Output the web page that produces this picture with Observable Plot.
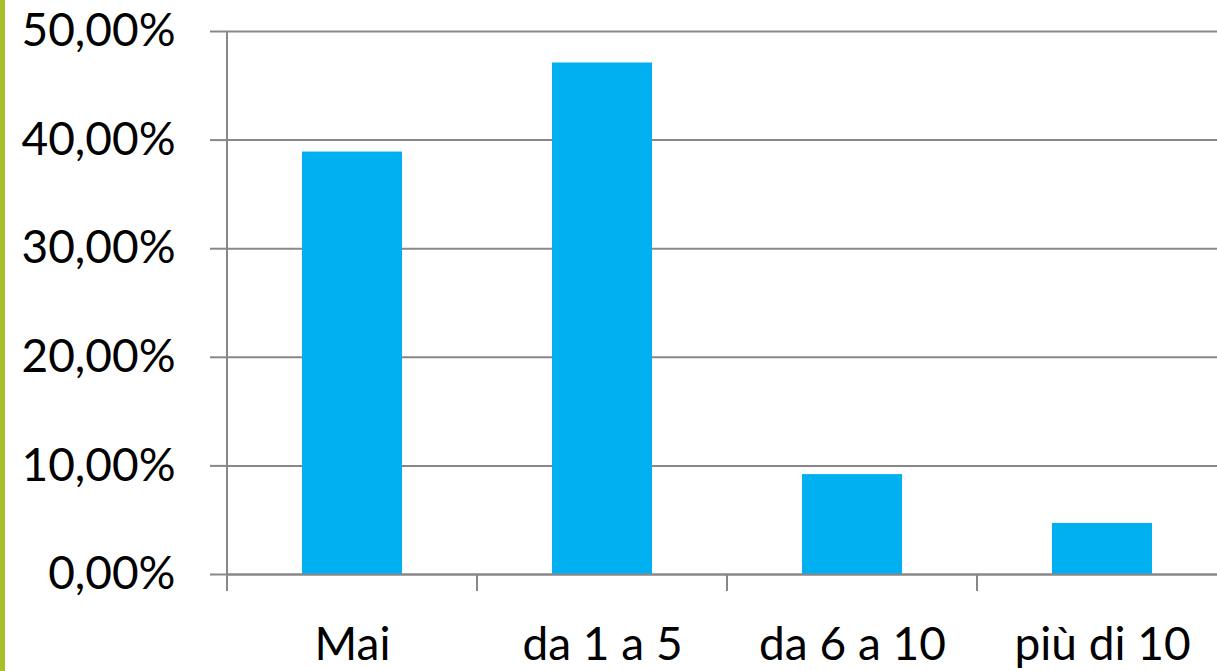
<!DOCTYPE html>
<html><head><meta charset="utf-8">
<script src="https://cdn.jsdelivr.net/npm/d3@7"></script>
<script src="https://cdn.jsdelivr.net/npm/@observablehq/plot@0.6"></script>
<style>
html,body{margin:0;padding:0;background:#fff;overflow:hidden;width:1217px;height:671px}
#strip{position:absolute;left:0;top:0;width:5px;height:671px;background:#a6bf2b;z-index:2}
#chart{position:absolute;left:0;top:0;width:1227px}
#chart svg{max-width:none !important}
#chart g[aria-label="y-axis tick"]{stroke:#888;stroke-width:2px}
</style></head><body><div id="strip"></div><div id="chart"></div>
<script>
const categories = ["Mai", "da 1 a 5", "da 6 a 10", "più di 10"];
const values = [0.389, 0.471, 0.092, 0.047];
const yTicks = [0, 0.1, 0.2, 0.3, 0.4, 0.5];

const data = categories.map((c, i) => ({c, v: values[i]}));
const fmt = d => (d * 100).toFixed(2).replace(".", ",") + "%";
const gray = "#888";

const axisLines = (index, scales, vals, dimensions) => {
  const {x, y} = scales;
  const step = x(categories[1]) - x(categories[0]);
  let bw = x.bandwidth;
  if (typeof bw === "function") bw = bw();
  if (bw == null) bw = step * 0.4;
  const y0 = y(0), yTop = y(0.5), ext = 17;
  const g = d3.create("svg:g").attr("stroke", gray).attr("stroke-width", 2).attr("fill", "none");
  g.append("line").attr("x1", dimensions.marginLeft).attr("x2", dimensions.marginLeft)
    .attr("y1", yTop).attr("y2", y0 + ext);
  categories.forEach(c => {
    const bx = x(c) - (step - bw) / 2;
    g.append("line").attr("x1", bx).attr("x2", bx).attr("y1", y0).attr("y2", y0 + ext);
  });
  return g.node();
};

const chart = Plot.plot({
  width: 1227,
  height: 671,
  marginLeft: 227,
  marginRight: 0,
  marginTop: 31,
  marginBottom: 97,
  style: {fontFamily: "Lato", fontSize: "46px", color: "#000", background: "transparent", overflow: "visible"},
  x: {domain: categories, paddingInner: 0.6, paddingOuter: 0.3, tickSize: 0, tickPadding: 53, label: null},
  y: {domain: [0, 0.5], ticks: yTicks, tickFormat: fmt, tickSize: 17, tickPadding: 35, label: null},
  marks: [
    Plot.ruleY(yTicks, {stroke: gray, strokeWidth: 2}),
    Plot.barY(data, {x: "c", y: "v", fill: "#00b0f0"}),
    Plot.ruleY([0], {stroke: gray, strokeWidth: 2}),
    axisLines
  ]
});
document.getElementById("chart").appendChild(chart);
</script>
</body></html>
